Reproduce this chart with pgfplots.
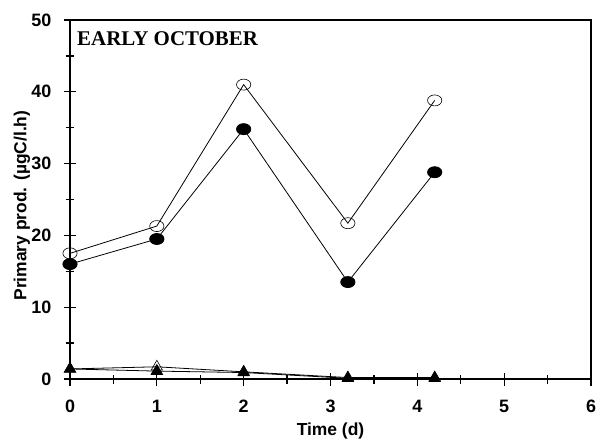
\documentclass[border=0pt]{standalone}
\usepackage{fontspec}
\setmainfont{Liberation Sans}
\newfontfamily\timesfont{Liberation Serif}
\usepackage{pgfplots}
\pgfplotsset{compat=1.18}

\begin{document}
\begin{tikzpicture}
\begin{axis}[
    name=ax,
    at={(0,0)}, anchor=south west,
    scale only axis,
    width=521bp, height=359bp,
    xmin=0, xmax=6, ymin=0, ymax=50,
    xtick={0,1,...,6}, ytick={0,10,...,50},
    minor xtick={0.5,1.5,...,5.5}, minor ytick={5,15,...,45},
    xtick pos=bottom, ytick pos=left,
    tick align=center,
    major tick length=13bp, minor tick length=9bp,
    tick style={black, line width=1.3pt},
    minor tick style={black, line width=1.3pt},
    axis line style={line width=1.6pt},
    ticklabel style={font=\fontsize{18}{20}\selectfont\bfseries, inner sep=0pt},
    xticklabel style={anchor=north},
    yticklabel style={anchor=east},
    xticklabel shift=14bp,
    yticklabel shift=12bp,
    /pgf/number format/assume math mode=true,
    xlabel={Time (d)},
    ylabel={Primary prod. (µgC/l.h)},
    xlabel style={font=\fontsize{17.5}{19}\selectfont\bfseries, inner sep=0pt,
        at={(axis description cs:0.5,0)}, anchor=base, yshift=-56bp},
    ylabel style={font=\fontsize{17.5}{19}\selectfont\bfseries, inner sep=0pt,
        at={(axis description cs:-0.0921,0.483)}, anchor=center},
    clip=false,
]
% open circles
\addplot[black, line width=0.8pt, mark=o, mark size=5.5bp,
    mark options={xscale=1.3, line width=0.6pt}]
coordinates {(0,17.5) (1,21.3) (2,41.0) (3.2,21.7) (4.2,38.8)};
% filled circles
\addplot[black, line width=0.8pt, mark=*, mark size=5.5bp,
    mark options={xscale=1.3}]
coordinates {(0,16.0) (1,19.5) (2,34.8) (3.2,13.5) (4.2,28.8)};
% open triangles
\addplot[black, line width=0.8pt, mark=triangle, mark size=6.5bp,
    mark options={line width=0.6pt}]
coordinates {(0,1.4) (1,1.7) (2,1.0) (3.2,0.2) (4.2,0.2)};
% filled triangles
\addplot[black, line width=0.8pt, mark=triangle*, mark size=6.5bp]
coordinates {(0,1.4) (1,1.1) (2,0.9) (3.2,0.1) (4.2,0.1)};
\node[anchor=base west, font=\timesfont\bfseries\fontsize{21}{23}\selectfont, inner sep=0pt]
    at ([xshift=7bp,yshift=-26bp]rel axis cs:0,1) {EARLY OCTOBER};
\end{axis}
\pgfresetboundingbox
\path[use as bounding box] ([shift={(-70bp,-62bp)}]ax.south west)
    rectangle ([shift={(19bp,20bp)}]ax.north east);
\end{tikzpicture}
\end{document}
